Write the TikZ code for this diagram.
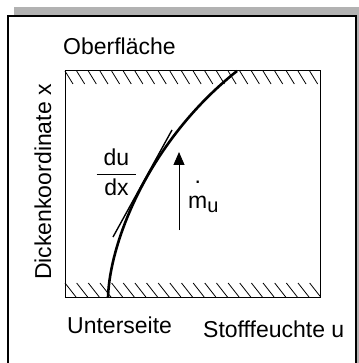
\documentclass[tikz,border=0pt]{standalone}
\usepackage{fontspec}
\setmainfont{Liberation Sans}
\usetikzlibrary{arrows.meta}
\begin{document}
\begin{tikzpicture}[x=1pt,y=-1pt]
\tikzstyle{lbl}=[inner sep=0pt,font=\fontsize{23}{27}\selectfont]
\tikzstyle{hatch}=[line width=0.8pt]
\useasboundingbox (0,0) rectangle (358,363);

% Frame with shadow
\fill[black!30] (14,7) rectangle (380,390);
\draw[line width=2.5pt,fill=white] (8,16) rectangle (356,380);

% Layer with hatched faces
\draw[line width=1pt] (65,71) rectangle (320,297);
\foreach \i in {0,...,21} \draw[hatch] ({65+\i*11.65},71) -- ++(8,13);
\foreach \i in {0,...,21} \draw[hatch] ({65+\i*11.65},283) -- ++(11,14);

% Moisture profile and tangent
\coordinate (u0) at (108,297);
\coordinate (u1) at (237,71);
\draw[line width=2.6pt] (u0) .. controls (110,240) and (150,140) .. (u1);
\coordinate (t0) at (113,237);
\coordinate (t1) at (172,130);
\draw[line width=1.4pt] (t0) -- (t1);

% Flux arrow
\coordinate (a0) at (179,230);
\coordinate (a1) at (179,152);
\draw[line width=1pt,-{Triangle[length=13pt,width=11pt]}] (a0) -- (a1);

% Labels
\node[lbl,anchor=base west] (ob) at (63,55) {Oberfläche};
\node[lbl,anchor=base west] (us) at (67,333) {Unterseite};
\node[lbl,anchor=base west] (sf) at (203,337) {Stofffeuchte u};
\node[lbl,anchor=base,rotate=90] (dk) at (51,182) {Dickenkoordinate x};
\node[lbl,font=\fontsize{23}{29}\selectfont,anchor=base] (dudx) at (116.5,195)
  {\setlength\arrayrulewidth{1pt}\begin{tabular}[b]{@{\hspace{7pt}}c@{\hspace{7pt}}}du\\\hline dx\end{tabular}};
\node[lbl,anchor=base west] (mu) at (188,208)
  {\makebox[0pt][l]{\hspace{6.4pt}\raisebox{25pt}{.}}m\raisebox{-4pt}{\fontsize{20}{20}\selectfont u}};
\end{tikzpicture}
\end{document}
